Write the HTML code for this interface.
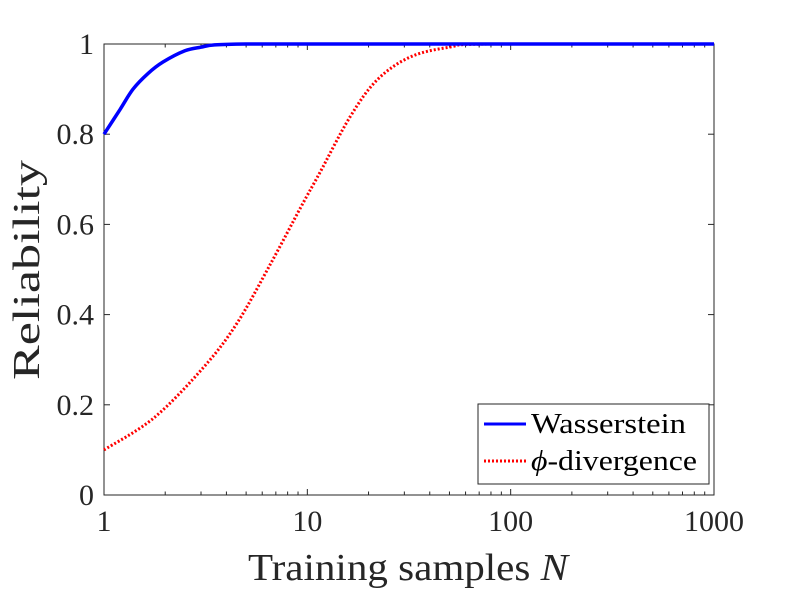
<!DOCTYPE html>
<html><head><meta charset="utf-8"><style>
body{margin:0;background:#fff}
text{font-family:"Liberation Serif",serif;fill:#262626}
</style></head><body>
<svg id="chart" width="789" height="592" viewBox="0 0 789 592" xmlns="http://www.w3.org/2000/svg">
<rect x="0" y="0" width="789" height="592" fill="#fff"/>
<g id="axes"></g>
<g id="series"></g>
<g id="legend">
<rect x="478" y="404" width="231" height="80" fill="#fff" stroke="#262626" stroke-width="1"/>
<line x1="484" y1="424" x2="526" y2="424" stroke="#0000ff" stroke-width="3"/>
<text x="531" y="433" font-size="28" textLength="155" lengthAdjust="spacingAndGlyphs" style="fill:#000">Wasserstein</text>
<line x1="484" y1="461" x2="526" y2="461" stroke="#ff0000" stroke-width="3" stroke-dasharray="2,2"/>
<text x="531" y="470" font-size="28" textLength="166" lengthAdjust="spacingAndGlyphs" style="fill:#000"><tspan font-style="italic">ϕ</tspan>-divergence</text>
</g>
</svg>
<script>
const xTicks=[1,10,100,1000];
const xTickLabels=["1","10","100","1000"];
const yTicks=[0,0.2,0.4,0.6,0.8,1];
const yTickLabels=["0","0.2","0.4","0.6","0.8","1"];
const wassN=[1,1.2,1.39,1.65,1.95,2.5,3,3.5,5,10,100,1000];
const wassR=[0.8,0.855,0.9,0.935,0.96,0.985,0.993,0.998,1,1,1,1];
const phiN=[1,1.76,3.1,4.51,6.62,9.31,11.5,16.2,22.0,32.0,50.1,80,1000];
const phiR=[0.1,0.171,0.284,0.381,0.514,0.639,0.714,0.838,0.92,0.971,0.993,1,1];
const L=104,R=714,T=44,B=495;
const xs=v=>L+(Math.log10(v)/3)*(R-L);
const ys=v=>B-v*(B-T);
const ns="http://www.w3.org/2000/svg";
function mk(tag,attrs,parent){const e=document.createElementNS(ns,tag);for(const k in attrs)e.setAttribute(k,attrs[k]);parent.appendChild(e);return e;}
const ax=document.getElementById('axes');
const frame=mk('rect',{x:L,y:T,width:R-L,height:B-T,fill:'none',stroke:'#262626','stroke-width':1},ax);


for(let d=0;d<3;d++){for(let m=2;m<=9;m++){const x=xs(m*Math.pow(10,d));
const t1=mk('line',{x1:x,y1:B,x2:x,y2:B-3.5,stroke:'#262626'},ax);


const t2=mk('line',{x1:x,y1:T,x2:x,y2:T+3.5,stroke:'#262626'},ax);

}}
xTicks.forEach((v,i)=>{const x=xs(v);
const a=mk('line',{x1:x,y1:B,x2:x,y2:B-6,stroke:'#262626'},ax);


const b=mk('line',{x1:x,y1:T,x2:x,y2:T+6,stroke:'#262626'},ax);


const t=mk('text',{x:x,y:531,'font-size':30,'text-anchor':'middle'},ax);t.textContent=xTickLabels[i];

});
yTicks.forEach((v,i)=>{const y=ys(v);
const a=mk('line',{x1:L,y1:y,x2:L+6,y2:y,stroke:'#262626'},ax);


const b=mk('line',{x1:R,y1:y,x2:R-6,y2:y,stroke:'#262626'},ax);


const t=mk('text',{x:94,y:y+10,'font-size':30,'text-anchor':'end'},ax);t.textContent=yTickLabels[i];

});
const xl=mk('text',{x:248,y:580,'font-size':38,textLength:320,lengthAdjust:'spacingAndGlyphs'},ax);
xl.innerHTML='Training samples <tspan font-style="italic">N</tspan>';


const yl=mk('text',{x:0,y:0,'font-size':38,textLength:220,lengthAdjust:'spacingAndGlyphs',transform:'translate(39,380) rotate(-90)'},ax);
yl.textContent='Reliability';


const sg=document.getElementById('series');
function path(N,Rv){const p=N.map((n,i)=>[xs(n),ys(Rv[i])]);let d='M'+p[0][0]+','+p[0][1];
for(let i=0;i<p.length-1;i++){const p0=p[Math.max(0,i-1)],p1=p[i],p2=p[i+1],p3=p[Math.min(p.length-1,i+2)];
const c1=[p1[0]+(p2[0]-p0[0])/6,p1[1]+(p2[1]-p0[1])/6],c2=[p2[0]-(p3[0]-p1[0])/6,p2[1]-(p3[1]-p1[1])/6];
c1[1]=Math.max(c1[1],T);c2[1]=Math.max(c2[1],T);
d+=` C${c1[0]},${c1[1]} ${c2[0]},${c2[1]} ${p2[0]},${p2[1]}`;}return d;}
const pp=mk('path',{d:path(phiN,phiR),fill:'none',stroke:'#ff0000','stroke-width':3,'stroke-dasharray':'2,2'},sg);


const wp=mk('path',{d:path(wassN,wassR),fill:'none',stroke:'#0000ff','stroke-width':3.5},sg);


</script>
</body></html>
